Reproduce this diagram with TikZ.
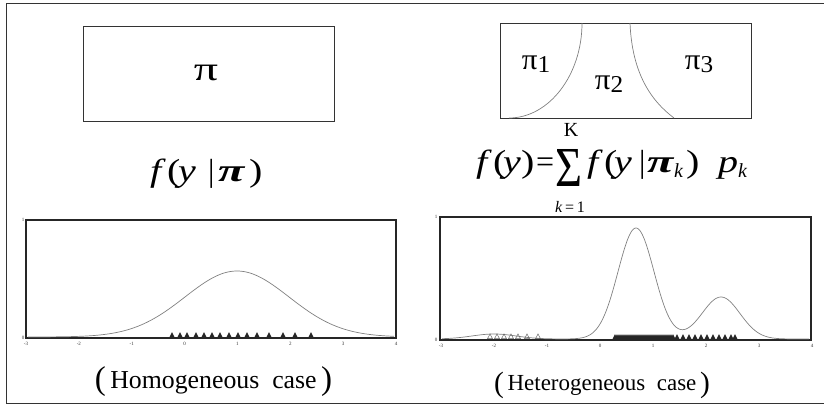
\documentclass[tikz,border=0pt]{standalone}
\usepackage{fontspec}
\setmainfont{Liberation Serif}
\usepackage{graphicx}
\newcommand{\fsz}[1]{\fontsize{#1}{#1}\selectfont}
\newcommand{\gx}[1]{\scalebox{1.25}[1]{#1}}
\newcommand{\gp}[1]{\scalebox{1.5}[1]{#1}}
\begin{document}
\begin{tikzpicture}[x=1pt,y=-1pt,
  outer/.style={draw=black!80, line width=0.9pt},
  boxst/.style={draw=black!80, line width=1pt, inner sep=0pt},
  axbox/.style={draw=black!85, line width=1.2pt},
  curvest/.style={draw=black!50, line width=0.7pt},
  ticklab/.style={font=\fsz{5}, inner sep=0pt, text=black!80},
  txt/.style={inner sep=0pt},
  gl/.style={inner sep=0pt, anchor=base west, font=\fsz{32}},
  tri/.style={fill=black!85},
  htri/.style={draw=black!60, line width=0.5pt}]
\useasboundingbox (0,0) rectangle (824,407);
% outer frame
\draw[outer] (824,3) -- (6,3) -- (6,403) -- (824,403);

% ---------- left part ----------
\node[boxst, minimum width=251pt, minimum height=95pt] (boxL) at (208.5,73.5) {};
\node[txt] (piL) at (206,73) {\scalebox{1.5}[1.05]{\fsz{32}π}};
\node[gl] (l1) at (150,181) {\gx{\textit{f}}};
\node[gl] (l2) at (167,181) {\gx{(}};
\node[gl] (l3) at (178,181) {\gx{\textit{y}}};
\node[gl] (l4) at (208,181) {|};
\node[gl] (l5) at (218,181) {\gp{\textbf{\textit{π}}}};
\node[gl] (l6) at (249,181) {\gx{)}};

% plot left
\draw[axbox] (26,220) rectangle (396,338);
\foreach \i/\l in {0/-3,1/-2,2/-1,3/0,4/1,5/2,6/3,7/4}
  \node[ticklab] at ({26+\i*52.857},344) {\l};
\node[ticklab] at (23,220) {1};
\node[ticklab] at (23,338) {0};
\draw[curvest] plot[domain=28:394, samples=160] (\x, {337-66*exp(-min((((\x-237)/52)^2)/2,15))});
\foreach \p in {172,180,187,196,204,212,220,229,238,247,257,269,283,295,311}
  \fill[tri] (\p-2.6,337.4) -- (\p+2.6,337.4) -- (\p,332) -- cycle;
\node[txt] (capL) at (213.5,382) {\resizebox{237pt}{!}{\fsz{25}\raisebox{-1.5pt}{\fsz{32}(}\,Homogeneous\ \ case\,\raisebox{-1.5pt}{\fsz{32})}}};

% ---------- right part ----------
\node[boxst, minimum width=251pt, minimum height=95pt] (boxR) at (625.5,70.5) {};
\draw[curvest] (582,23) .. controls (582,75) and (549,118) .. (509,118);
\draw[curvest] (630,23) .. controls (632,72) and (650,100) .. (674,118);
\node[txt] (pi1) at (536,64) {\scalebox{1.15}[1.1]{\fsz{27}π\raisebox{-3pt}{\fsz{22}1}}};
\node[txt] (pi2) at (609,84) {\scalebox{1.15}[1.1]{\fsz{27}π\raisebox{-3pt}{\fsz{22}2}}};
\node[txt] (pi3) at (699,64) {\scalebox{1.15}[1.1]{\fsz{27}π\raisebox{-3pt}{\fsz{22}3}}};
\node[gl] (r1) at (476,172) {\gx{\textit{f}}};
\node[gl] (r2) at (493,172) {\gx{(}};
\node[gl] (r3) at (503,172) {\gx{\textit{y}}};
\node[gl] (r4) at (521,172) {\gx{)}};
\node[gl] (r5) at (536,172) {=};
\node[txt] (sig) at (569,168) {\resizebox{27pt}{37pt}{Σ}};
\node[txt] (supK) at (571,130) {\fsz{20}K};
\node[txt] (subk) at (570,207) {\fsz{16}\textit{k}\,=\,1};
\node[gl] (r6) at (587,172) {\gx{\textit{f}}};
\node[gl] (r7) at (604,172) {\gx{(}};
\node[gl] (r8) at (614,172) {\gx{\textit{y}}};
\node[gl] (r9) at (639,172) {|};
\node[gl] (r10) at (647,172) {\gp{\textbf{\textit{π}}}};
\node[gl, font=\fsz{20}] (r11) at (674,177) {\textit{k}};
\node[gl] (r12) at (686,172) {\gx{)}};
\node[gl] (r13) at (718,172) {\gx{\textit{p}}};
\node[gl, font=\fsz{20}] (r14) at (738,177) {\textit{k}};

% plot right
\draw[axbox] (440,217) rectangle (811,340);
\foreach \i/\l in {0/-3,1/-2,2/-1,3/0,4/1,5/2,6/3,7/4}
  \node[ticklab] at ({441+\i*53},346) {\l};
\node[ticklab] at (436,217) {1};
\node[ticklab] at (436,340) {0};
\draw[curvest] plot[domain=442:809, samples=300] (\x, {339-111*exp(-min((((\x-636)/18)^2)/2,15))-42*exp(-min((((\x-721)/19)^2)/2,15))-5*exp(-min((((\x-494)/22)^2)/2,15))});
\foreach \p in {490,497,504,511,518,527,538}
  \draw[htri] (\p-2.4,338.5) -- (\p+2.4,338.5) -- (\p,334) -- cycle;
\foreach \p in {615,617,...,673}
  \fill[tri] (\p-2.6,339.4) -- (\p+2.6,339.4) -- (\p,334) -- cycle;
\foreach \p in {677,683,689,695,701,707,713,719,725,731,735}
  \fill[tri] (\p-2.6,339.4) -- (\p+2.6,339.4) -- (\p,334) -- cycle;
\node[txt] (capR) at (602,385) {\resizebox{216pt}{!}{\fsz{25}\raisebox{-1.5pt}{\fsz{32}(}\,Heterogeneous\ \ case\,\raisebox{-1.5pt}{\fsz{32})}}};
\end{tikzpicture}
\end{document}
